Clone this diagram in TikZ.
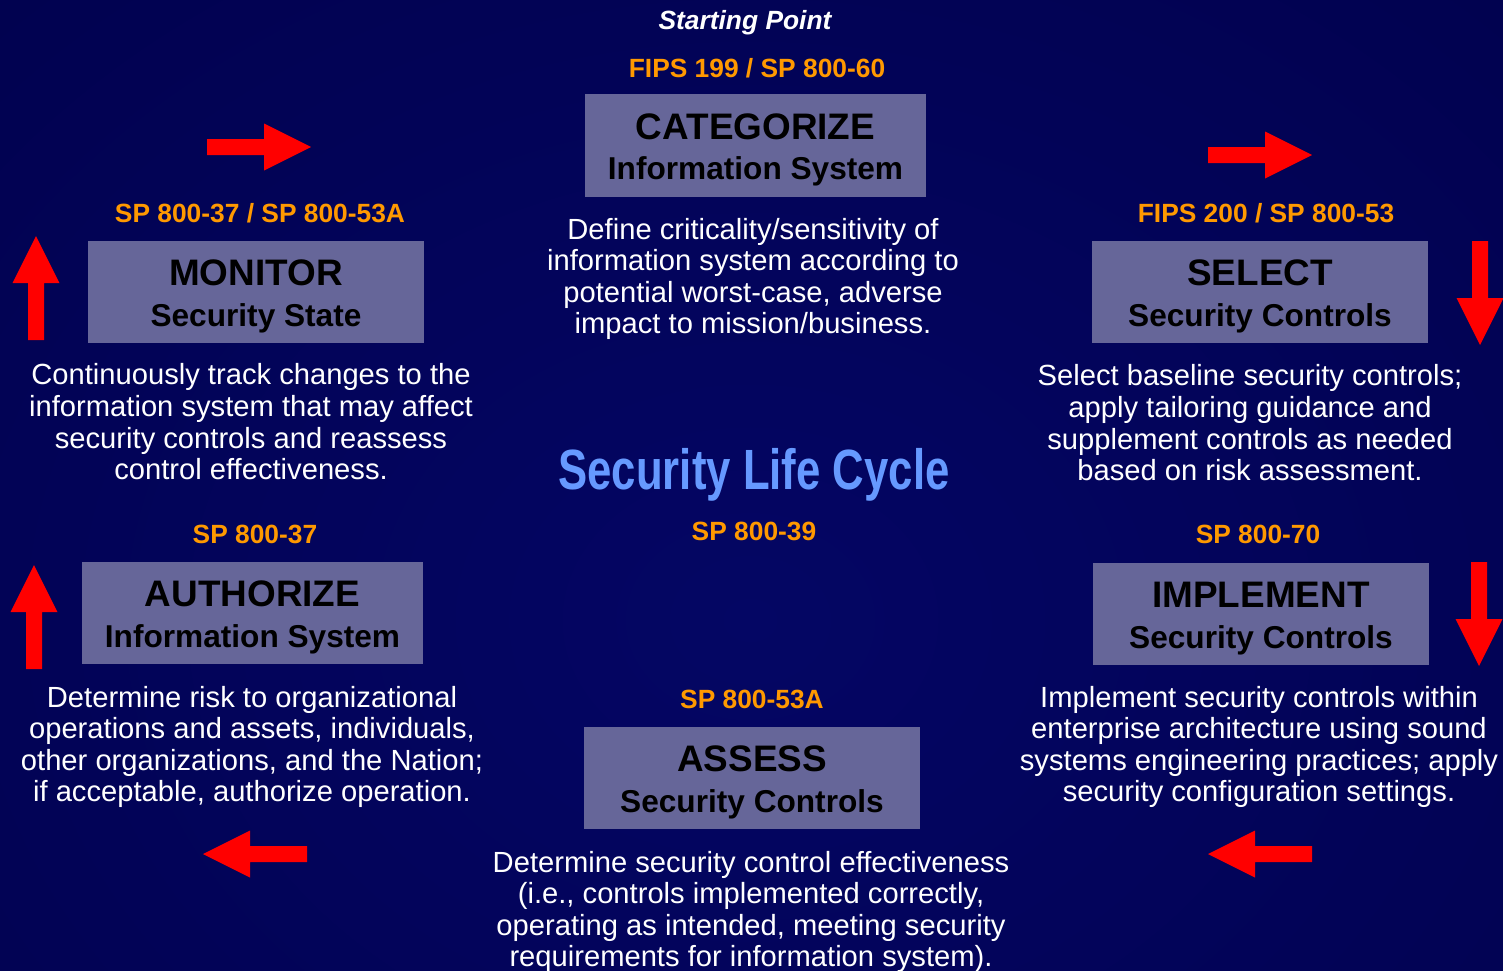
\documentclass[tikz,border=0pt]{standalone}
\usepackage{fontspec}
\setmainfont{Liberation Sans}
\usepackage{graphicx}

\definecolor{bgdark}{RGB}{0,0,72}
\definecolor{bglight}{RGB}{4,6,100}
\definecolor{boxfill}{RGB}{102,102,153}
\definecolor{refcolor}{RGB}{255,153,0}
\definecolor{titleblue}{RGB}{102,153,255}
\definecolor{arrowred}{RGB}{255,0,0}

\tikzset{
  docref/.style={text=refcolor, font=\fontsize{15}{18}\selectfont\bfseries},
  stepname/.style={align=center, text=black, font=\fontsize{18}{23}\selectfont\bfseries},
  stepdesc/.style={align=center, text=white, font=\fontsize{16.6}{18}\selectfont},
  pics/redarrow/.style={code={
    \fill[arrowred] (-52,-8) -- (5,-8) -- (5,-23.5) -- (52,0) -- (5,23.5) -- (5,8) -- (-52,8) -- cycle;}}
}
\newcommand{\stepmain}[1]{{\fontsize{21}{23}\selectfont #1}}

\begin{document}
\begin{tikzpicture}[x=0.02cm, y=-0.02cm]
      \useasboundingbox (0,0) rectangle (1503,970);
      % background
      \fill[bgdark] (0,0) rectangle (1503,970);
      \begin{scope}
        \clip (0,0) rectangle (1503,970);
        \shade[inner color=bglight, outer color=bgdark] (-750,-580) rectangle (2250,1820);
      \end{scope}

      % the six steps
      \node (start) [text=white, font=\fontsize{15}{18}\selectfont\bfseries\itshape] at (745,23) {Starting Point};
      \node (catref) [docref] at (757,68) {FIPS 199 / SP 800-60};
      \fill[boxfill] (585,94) rectangle (926,197) node (categorize) [pos=.5, yshift=-2.5pt, stepname] {\stepmain{CATEGORIZE}\\Information System};
      \node (catdesc) [stepdesc] at (753,279) {Define criticality/sensitivity of\\information system according to\\potential worst-case, adverse\\impact to mission/business.};

      \node (selref) [docref] at (1266,213) {FIPS 200 / SP 800-53};
      \fill[boxfill] (1092,241) rectangle (1428,343) node (select) [pos=.5, yshift=-2.5pt, stepname] {\stepmain{SELECT}\\Security Controls};
      \node (seldesc) [stepdesc] at (1250,423) {Select baseline security controls;\\apply tailoring guidance and\\supplement controls as needed\\based on risk assessment.};

      \node (impref) [docref] at (1258,534) {SP 800-70};
      \fill[boxfill] (1093,563) rectangle (1429,665) node (implement) [pos=.5, yshift=-2.5pt, stepname] {\stepmain{IMPLEMENT}\\Security Controls};
      \node (impdesc) [stepdesc] at (1259,747) {Implement security controls within\\enterprise architecture using sound\\systems engineering practices; apply\\security configuration settings.};

      \node (assref) [docref] at (752,699) {SP 800-53A};
      \fill[boxfill] (584,727) rectangle (920,829) node (assess) [pos=.5, yshift=-2.5pt, stepname] {\stepmain{ASSESS}\\Security Controls};
      \node (assdesc) [stepdesc] at (751,912) {Determine security control effectiveness\\(i.e., controls implemented correctly,\\operating as intended, meeting security\\requirements for information system).};

      \node (authref) [docref] at (255,534) {SP 800-37};
      \fill[boxfill] (82,562) rectangle (423,664) node (authorize) [pos=.5, yshift=-2.5pt, stepname] {\stepmain{AUTHORIZE}\\Information System};
      \node (authdesc) [stepdesc] at (252,747) {Determine risk to organizational\\operations and assets, individuals,\\other organizations, and the Nation;\\if acceptable, authorize operation.};

      \node (monref) [docref] at (260,213) {SP 800-37 / SP 800-53A};
      \fill[boxfill] (88,241) rectangle (424,343) node (monitor) [pos=.5, yshift=-2.5pt, stepname] {\stepmain{MONITOR}\\Security State};
      \node (mondesc) [stepdesc] at (251,422) {Continuously track changes to the\\information system that may affect\\security controls and reassess\\control effectiveness.};

      % centre
      \node (title) [text=titleblue, font=\fontsize{32.3}{36}\selectfont\bfseries] at (754,475) {\scalebox{0.77}[1]{Security Life Cycle}};
      \node (lifecycleref) [docref] at (754,531) {SP 800-39};

      % block arrows round the cycle
      \pic at (259,147) {redarrow};
      \pic at (1260,155) {redarrow};
      \pic[rotate=-90] at (1480,293) {redarrow};
      \pic[rotate=-90] at (1479,614) {redarrow};
      \pic[rotate=180] at (1260,854) {redarrow};
      \pic[rotate=180] at (255,854) {redarrow};
      \pic[rotate=90] at (34,617) {redarrow};
      \pic[rotate=90] at (36,288) {redarrow};
\end{tikzpicture}
\end{document}
